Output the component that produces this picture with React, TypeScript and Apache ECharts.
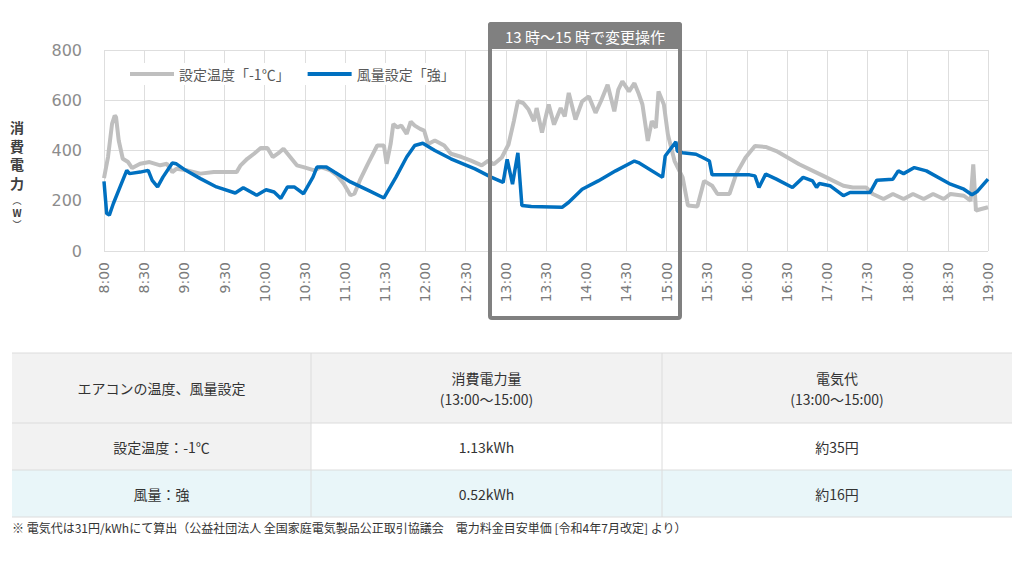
import React, { useEffect, useRef } from "react";
import * as echarts from "echarts";

const xTickLabels = [
  "8:00", "8:30", "9:00", "9:30", "10:00", "10:30", "11:00", "11:30", "12:00", "12:30",
  "13:00", "13:30", "14:00", "14:30", "15:00", "15:30", "16:00", "16:30", "17:00", "17:30",
  "18:00", "18:30", "19:00",
];

const legendNames = ["設定温度「-1℃」", "風量設定「強」"];

// minutes after 8:00
const grayMinutes = [
  0, 3, 6, 8, 9, 11, 14, 18, 21, 27, 34, 42, 47, 51, 54, 62, 72, 82, 99, 102,
  107, 112, 117, 122, 126, 131, 134, 139, 144, 149, 157, 162, 169, 174, 179, 184, 187, 191, 197, 204,
  209, 211, 214, 216, 219, 222, 226, 229, 232, 236, 239, 242, 247, 254, 259, 267, 274, 282, 287, 291,
  297, 302, 306, 309, 313, 317, 321, 323, 327, 332, 336, 341, 344, 347, 352, 357, 362, 367, 371, 376,
  381, 384, 387, 392, 396, 399, 402, 406, 409, 412, 414, 418, 421, 426, 432, 436, 443, 448, 454, 458,
  467, 472, 479, 486, 494, 502, 519, 537, 552, 559, 569, 574, 582, 589, 597, 604, 612, 619, 627, 632,
  642, 647, 649, 651, 655, 660,
];
const grayValues = [
  290, 374, 506, 539, 532, 440, 367, 354, 330, 347, 354, 341, 347, 314, 327, 321, 308, 314, 314, 341,
  367, 387, 410, 410, 374, 393, 407, 374, 341, 334, 321, 334, 321, 301, 268, 222, 228, 281, 347, 420,
  420, 347, 426, 505, 492, 499, 466, 515, 499, 486, 479, 426, 440, 420, 387, 374, 360, 341, 360, 345,
  372, 424, 517, 596, 589, 563, 517, 569, 471, 583, 503, 569, 536, 629, 523, 596, 615, 550, 596, 662,
  556, 642, 675, 635, 668, 629, 583, 438, 517, 490, 635, 583, 464, 358, 293, 181, 177, 279, 260, 227,
  227, 306, 372, 418, 414, 398, 345, 299, 260, 253, 253, 227, 207, 227, 207, 227, 207, 227, 207, 227,
  220, 200, 345, 161, 167, 174,
];

const blueMinutes = [
  0, 2, 4, 7, 12, 17, 19, 27, 33, 36, 40, 44, 51, 54, 61, 72, 84, 98, 104, 114,
  121, 127, 132, 137, 142, 149, 156, 159, 166, 172, 184, 197, 209, 218, 226, 232, 238, 247, 259, 277,
  289, 298, 301, 305, 309, 312, 319, 342, 347, 357, 369, 382, 396, 399, 417, 419, 427, 428, 432, 442,
  447, 452, 454, 467, 482, 486, 489, 494, 502, 514, 522, 529, 532, 534, 542, 552, 557, 572, 577, 589,
  593, 597, 605, 614, 632, 642, 648, 652, 660,
];
const blueValues = [
  277, 149, 143, 189, 255, 321, 308, 314, 321, 281, 255, 294, 350, 347, 321, 288, 255, 231, 252, 222,
  244, 235, 209, 255, 255, 228, 294, 334, 334, 314, 275, 242, 211, 294, 374, 420, 429, 400, 367, 327,
  294, 273, 365, 266, 391, 181, 177, 174, 194, 246, 279, 319, 358, 352, 293, 378, 435, 398, 391, 385,
  372, 358, 303, 303, 303, 299, 253, 306, 286, 253, 293, 279, 253, 269, 260, 220, 233, 233, 282, 286,
  319, 308, 332, 319, 266, 246, 224, 237, 286,
];

const yAxisTitleMain = "消\n費\n電\n力";
const yAxisTitleUnit = ["︵", "W", "︶"];
const boxTitle = "13 時～15 時で変更操作";
const tableHeader = ["エアコンの温度、風量設定", "消費電力量", "電気代"];
const tableSubHeader = ["", "(13:00〜15:00)", "(13:00〜15:00)"];
const tableRows = [
  ["設定温度：-1℃", "1.13kWh", "約35円"],
  ["風量：強", "0.52kWh", "約16円"],
];
const footnote =
  "※ 電気代は31円/kWhにて算出（公益社団法人 全国家庭電気製品公正取引協議会　電力料金目安単価 [令和4年7月改定] より）";

const CJK = "'Noto Sans CJK JP', 'Noto Sans', sans-serif";

function pairs(xs: number[], ys: number[]) {
  return xs.map((x, i) => [x, ys[i]]);
}

export default function App() {
  const ref = useRef<HTMLDivElement>(null);

  useEffect(() => {
    document.body.style.margin = "0";
    const chart = echarts.init(ref.current!, null, { renderer: "svg" });

    const colX = [12, 311, 662, 1012];
    const rowY = [353, 423, 470, 517];
    const table: any[] = [];
    table.push({ type: "rect", shape: { x: 12, y: 353, width: 1000, height: 70 }, style: { fill: "#f2f2f2" } });
    table.push({ type: "rect", shape: { x: 12, y: 423, width: 299, height: 47 }, style: { fill: "#f2f2f2" } });
    table.push({ type: "rect", shape: { x: 311, y: 423, width: 701, height: 47 }, style: { fill: "#ffffff" } });
    table.push({ type: "rect", shape: { x: 12, y: 470, width: 1000, height: 47 }, style: { fill: "#e9f6f9" } });
    rowY.forEach((y) =>
      table.push({ type: "line", shape: { x1: 12, y1: y, x2: 1012, y2: y }, style: { stroke: "#dcdcdc", lineWidth: 1 } })
    );
    [311, 662].forEach((x) =>
      table.push({ type: "line", shape: { x1: x, y1: 353, x2: x, y2: 517 }, style: { stroke: "#dcdcdc", lineWidth: 1 } })
    );
    const txt = (t: string, x: number, y: number) => ({
      type: "text",
      x,
      y,
      style: { text: t, fill: "#333333", font: `14px ${CJK}`, align: "center", verticalAlign: "middle" },
    });
    for (let c = 0; c < 3; c++) {
      const cx = (colX[c] + colX[c + 1]) / 2;
      if (tableSubHeader[c]) {
        table.push(txt(tableHeader[c], cx, 378));
        table.push(txt(tableSubHeader[c], cx, 399));
      } else {
        table.push(txt(tableHeader[c], cx, 388));
      }
      tableRows.forEach((row, r) => {
        table.push(txt(row[c], cx, (rowY[r + 1] + rowY[r + 2]) / 2));
      });
    }
    table.push({
      type: "text",
      x: 12,
      y: 527,
      style: { text: footnote, fill: "#333333", font: `12px ${CJK}`, align: "left", verticalAlign: "middle" },
    });

    const unitTexts = yAxisTitleUnit.map((t, i) => ({
      type: "text",
      x: 17,
      y: 200 + i * 12,
      z: 10,
      style: {
        text: t,
        fill: "#404040",
        font: `${i === 1 ? "bold 10px" : "9px"} ${CJK}`,
        align: "center",
        verticalAlign: "middle",
      },
    }));

    const option: any = {
      animation: false,
      backgroundColor: "#ffffff",
      grid: { left: 104, right: 36, top: 50, bottom: 325, containLabel: false },
      legend: {
        left: 126,
        top: 63,
        padding: [4, 4],
        backgroundColor: "#ffffff",
        icon: "rect",
        itemWidth: 44,
        itemHeight: 4,
        itemGap: 18,
        textStyle: { color: "#595959", fontSize: 14, fontFamily: CJK },
        data: legendNames,
        z: 4,
      },
      xAxis: {
        type: "value",
        min: 0,
        max: 660,
        interval: 30,
        axisLine: { show: false },
        axisTick: { show: false },
        splitLine: { show: true, lineStyle: { color: "#dedede", width: 1 } },
        axisLabel: {
          rotate: 90,
          margin: 11,
          color: "#7a7a7a",
          fontSize: 14,
          fontFamily: "'DejaVu Sans', sans-serif",
          formatter: (v: number) => xTickLabels[Math.round(v / 30)] ?? "",
        },
      },
      yAxis: {
        type: "value",
        min: 0,
        max: 800,
        interval: 200,
        axisLine: { show: false },
        axisTick: { show: false },
        splitLine: { show: true, lineStyle: { color: "#dedede", width: 1 } },
        axisLabel: {
          margin: 22,
          color: "#8c8c8c",
          fontSize: 16,
          fontFamily: "'DejaVu Sans', sans-serif",
        },
      },
      series: [
        {
          name: legendNames[0],
          type: "line",
          data: pairs(grayMinutes, grayValues),
          showSymbol: false,
          symbol: "none",
          color: "#bfbfbf",
          lineStyle: { color: "#bfbfbf", width: 4 },
          z: 2,
        },
        {
          name: legendNames[1],
          type: "line",
          data: pairs(blueMinutes, blueValues),
          showSymbol: false,
          symbol: "none",
          color: "#0070c0",
          lineStyle: { color: "#0070c0", width: 3.5 },
          z: 3,
        },
      ],
      graphic: [
        {
          type: "text",
          x: 17,
          y: 118,
          z: 10,
          style: {
            text: yAxisTitleMain,
            fill: "#404040",
            font: `bold 14px ${CJK}`,
            lineHeight: 18.5,
            align: "center",
            verticalAlign: "top",
          },
        },
        ...unitTexts,
        {
          type: "rect",
          z: 20,
          shape: { x: 490, y: 24, width: 190, height: 294, r: 2 },
          style: { fill: "none", stroke: "#808080", lineWidth: 4 },
        },
        {
          type: "rect",
          z: 21,
          shape: { x: 488, y: 22, width: 194, height: 27, r: [3, 3, 0, 0] },
          style: { fill: "#808080" },
        },
        {
          type: "text",
          z: 22,
          x: 585,
          y: 36,
          style: {
            text: boxTitle,
            fill: "#ffffff",
            font: `15px ${CJK}`,
            align: "center",
            verticalAlign: "middle",
          },
        },
        ...table.map((t) => ({ ...t, z: 5 })),
      ],
    };

    chart.setOption(option);
    return () => chart.dispose();
  }, []);

  return (
    <div
      ref={ref}
      style={{ position: "fixed", left: 0, top: 0, width: 1024, height: 576, background: "#fff" }}
    />
  );
}
